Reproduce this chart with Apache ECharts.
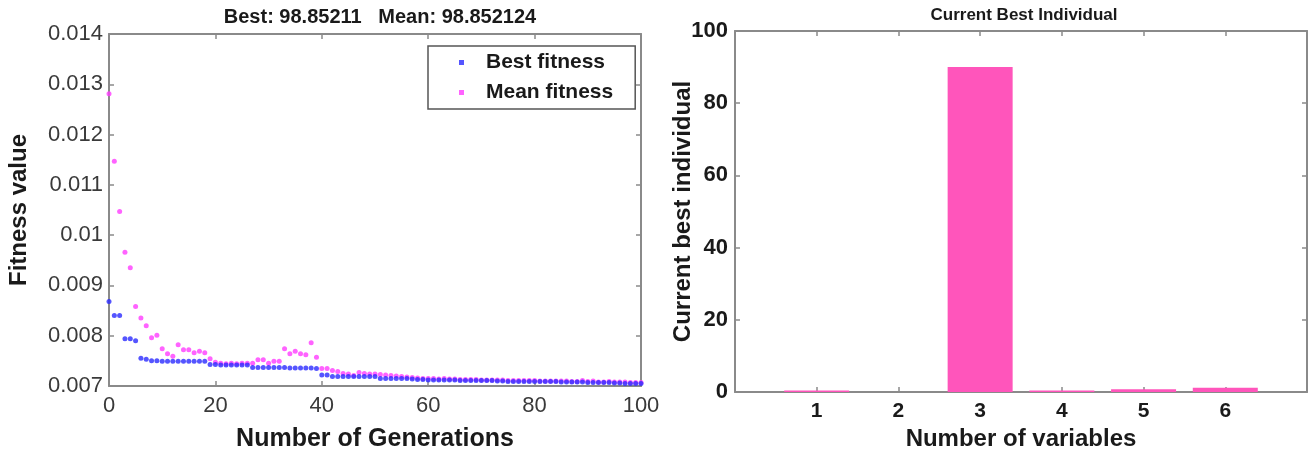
<!DOCTYPE html>
<html><head><meta charset="utf-8">
<script src="https://cdn.jsdelivr.net/npm/echarts@6/dist/echarts.min.js"></script>
<style>html,body{margin:0;padding:0;background:#fff}#c{width:1312px;height:451px}</style>
</head><body><div id="c"></div>
<script>
// Left chart: fitness per generation (units of 0.001)
const generations = Array.from({length: 101}, (_, i) => i);
const bestFitness = [
 8.68, 8.40, 8.40, 7.94, 7.94, 7.90, 7.55, 7.53, 7.50, 7.50,
 7.49, 7.49, 7.49, 7.49, 7.49, 7.49, 7.49, 7.49, 7.49, 7.43,
 7.43, 7.42, 7.42, 7.42, 7.42, 7.42, 7.42, 7.37, 7.37, 7.37,
 7.37, 7.37, 7.37, 7.37, 7.36, 7.36, 7.36, 7.36, 7.36, 7.35,
 7.22, 7.22, 7.19, 7.19, 7.19, 7.19, 7.19, 7.19, 7.19, 7.19,
 7.19, 7.15, 7.15, 7.15, 7.15, 7.15, 7.15, 7.14, 7.13, 7.13,
 7.12, 7.12, 7.12, 7.12, 7.12, 7.12, 7.11, 7.11, 7.11, 7.11,
 7.11, 7.11, 7.11, 7.10, 7.10, 7.09, 7.09, 7.09, 7.09, 7.09,
 7.09, 7.09, 7.09, 7.09, 7.09, 7.08, 7.08, 7.08, 7.08, 7.08,
 7.07, 7.07, 7.07, 7.07, 7.07, 7.06, 7.06, 7.05, 7.05, 7.05,
 7.05
];
const meanFitness = [
 12.81, 11.47, 10.47, 9.66, 9.35, 8.58, 8.35, 8.20, 7.96, 8.01,
 7.74, 7.64, 7.59, 7.82, 7.72, 7.72, 7.66, 7.69, 7.66, 7.54,
 7.47, 7.45, 7.44, 7.45, 7.44, 7.45, 7.45, 7.45, 7.52, 7.52,
 7.45, 7.49, 7.49, 7.74, 7.64, 7.69, 7.64, 7.62, 7.86, 7.57,
 7.35, 7.35, 7.31, 7.29, 7.25, 7.24, 7.21, 7.27, 7.25, 7.24,
 7.24, 7.23, 7.22, 7.21, 7.20, 7.19, 7.18, 7.17, 7.16, 7.15,
 7.15, 7.15, 7.14, 7.15, 7.14, 7.14, 7.13, 7.13, 7.13, 7.13,
 7.12, 7.12, 7.12, 7.12, 7.12, 7.11, 7.11, 7.11, 7.11, 7.11,
 7.11, 7.10, 7.10, 7.10, 7.10, 7.10, 7.10, 7.09, 7.09, 7.11,
 7.09, 7.10, 7.08, 7.08, 7.09, 7.08, 7.08, 7.08, 7.07, 7.07,
 7.07
];
// Right chart: current best individual
const variables = [1, 2, 3, 4, 5, 6];
const bestIndividual = [0.4, 0.03, 90, 0.4, 0.75, 1.2];

const leftTitle = 'Best: 98.85211   Mean: 98.852124';
const rightTitle = 'Current Best Individual';

const FONT = '"Liberation Sans", Arial, sans-serif';
const AX = '#8a8a8a';
const TXT = '#1a1a1a';
const TICKTXT = '#3a3a3a';

const best = generations.map((g, i) => [g, bestFitness[i] / 1000]);
const mean = generations.map((g, i) => [g, meanFitness[i] / 1000]);
const bars = variables.map((v, i) => [v, bestIndividual[i]]);

function boxAxis(base, extra) { return Object.assign({}, base, extra); }
const lineStyle = {show: true, onZero: false, lineStyle: {color: AX, width: 2}};
const tickStyle = {show: true, inside: true, length: 5, lineStyle: {color: AX, width: 1.5}};

const lx = {type: 'value', gridIndex: 0, min: 0, max: 100, interval: 20,
  axisLine: lineStyle, axisTick: tickStyle, splitLine: {show: false}};
const ly = {type: 'value', gridIndex: 0, min: 0.007, max: 0.014, interval: 0.001,
  axisLine: lineStyle, axisTick: tickStyle, splitLine: {show: false}};
const rx = {type: 'value', gridIndex: 1, min: 0, max: 7, interval: 1,
  axisLine: lineStyle, axisTick: tickStyle, splitLine: {show: false}};
const ry = {type: 'value', gridIndex: 1, min: 0, max: 100, interval: 20,
  axisLine: lineStyle, axisTick: tickStyle, splitLine: {show: false}};

const chart = echarts.init(document.getElementById('c'), null, {renderer: 'canvas'});
chart.setOption({
  animation: false,
  backgroundColor: '#fff',
  title: [
    {text: leftTitle, left: 375, top: 2, textAlign: 'center',
     textStyle: {fontFamily: FONT, fontSize: 20, fontWeight: 'bold', color: TXT}},
    {text: rightTitle, left: 1019, top: 2, textAlign: 'center',
     textStyle: {fontFamily: FONT, fontSize: 17, fontWeight: 'bold', color: TXT}}
  ],
  legend: {
    data: ['Best fitness', 'Mean fitness'],
    orient: 'vertical', left: 428, top: 46,
    borderColor: '#555', borderWidth: 1.5, borderRadius: 0,
    padding: [6, 22, 6, 31], itemGap: 9,
    itemWidth: 5, itemHeight: 5, icon: 'rect',
    textStyle: {fontFamily: FONT, fontSize: 21, fontWeight: 'bold', color: TXT, padding: [0, 0, 0, 17]}
  },
  grid: [
    {left: 109, right: 671, top: 34, bottom: 65, containLabel: false, outerBoundsMode: 'none'},
    {left: 735, right: 5, top: 31, bottom: 59, containLabel: false, outerBoundsMode: 'none'}
  ],
  xAxis: [
    boxAxis(lx, {position: 'bottom', name: 'Number of Generations', nameLocation: 'middle', nameGap: 41,
      nameMoveOverlap: false,
      nameTextStyle: {fontFamily: FONT, fontSize: 25, fontWeight: 'bold', color: TXT},
      axisLabel: {fontFamily: FONT, fontSize: 22, color: TICKTXT, margin: 9}}),
    boxAxis(lx, {position: 'top', axisLabel: {show: false}}),
    boxAxis(rx, {position: 'bottom', name: 'Number of variables', nameLocation: 'middle', nameGap: 35,
      nameMoveOverlap: false,
      nameTextStyle: {fontFamily: FONT, fontSize: 24, fontWeight: 'bold', color: TXT},
      axisLabel: {fontFamily: FONT, fontSize: 21, fontWeight: 'bold', color: TXT, margin: 9,
        formatter: v => (v >= 1 && v <= 6) ? String(v) : ''}}),
    boxAxis(rx, {position: 'top', axisLabel: {show: false}})
  ],
  yAxis: [
    boxAxis(ly, {position: 'left', name: 'Fitness value', nameLocation: 'middle', nameGap: 78,
      nameMoveOverlap: false,
      nameTextStyle: {fontFamily: FONT, fontSize: 24, fontWeight: 'bold', color: TXT},
      axisLabel: {fontFamily: FONT, fontSize: 22, color: TICKTXT, margin: 6,
        formatter: v => v.toFixed(3).replace(/0+$/, '').replace(/\.$/, '')}}),
    boxAxis(ly, {position: 'right', axisLabel: {show: false}}),
    boxAxis(ry, {position: 'left', name: 'Current best individual', nameLocation: 'middle', nameGap: 40,
      nameMoveOverlap: false,
      nameTextStyle: {fontFamily: FONT, fontSize: 24, fontWeight: 'bold', color: TXT},
      axisLabel: {fontFamily: FONT, fontSize: 22, fontWeight: 'bold', color: TXT, margin: 7}}),
    boxAxis(ry, {position: 'right', axisLabel: {show: false}})
  ],
  series: [
    {name: 'Best fitness', type: 'scatter', xAxisIndex: 0, yAxisIndex: 0, data: best,
     symbol: 'circle', symbolSize: 5, itemStyle: {color: '#2a2aff'}, z: 3},
    {name: 'Mean fitness', type: 'scatter', xAxisIndex: 0, yAxisIndex: 0, data: mean,
     symbol: 'circle', symbolSize: 5, itemStyle: {color: '#ff3cff'}, z: 2},
    {name: 'Current best', type: 'bar', xAxisIndex: 2, yAxisIndex: 2, data: bars,
     barWidth: 65, itemStyle: {color: '#ff55bb'}}
  ]
});
</script>
</body></html>
